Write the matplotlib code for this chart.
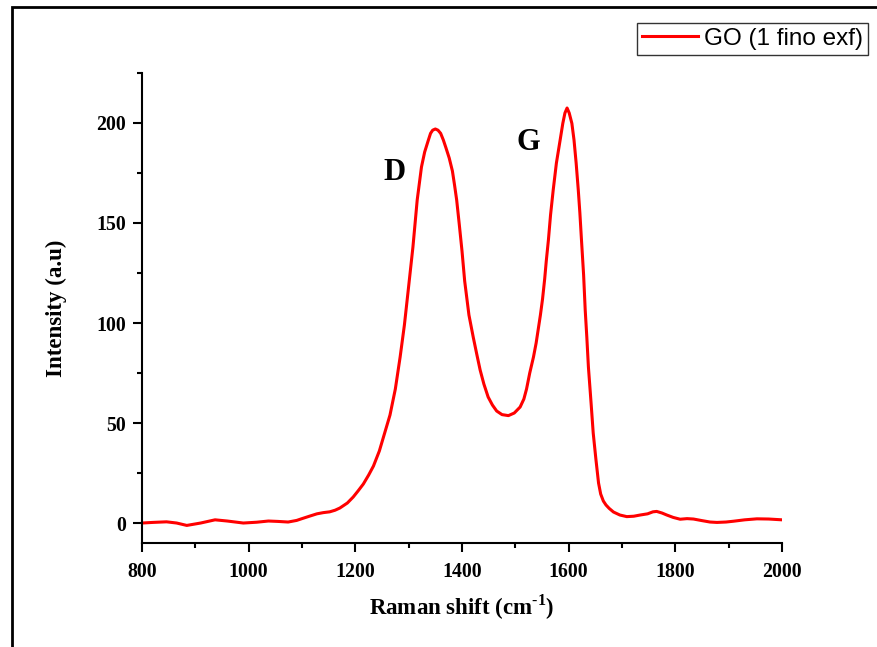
import matplotlib.pyplot as plt
from matplotlib.patches import Rectangle
from matplotlib.ticker import MultipleLocator

plt.rcParams['mathtext.fontset'] = 'custom'
plt.rcParams['mathtext.bf'] = 'Liberation Serif:bold'
plt.rcParams['mathtext.rm'] = 'Liberation Serif:bold'

# Raman spectrum
shift = [800, 820, 846, 865, 884, 910, 937, 960, 990, 1015, 1037, 1055, 1074, 1090,
         1100, 1115, 1128, 1140, 1152, 1162, 1171, 1185, 1196, 1205, 1215, 1225, 1234,
         1245, 1255, 1265, 1275, 1284, 1292, 1299, 1308, 1316, 1324, 1330, 1337, 1341,
         1345, 1350, 1355, 1360, 1365, 1370, 1376, 1382, 1386, 1390, 1395, 1400, 1405,
         1413, 1421, 1428, 1434, 1441, 1449, 1457, 1465, 1475, 1487, 1498, 1509, 1516,
         1521, 1527, 1534, 1539, 1543, 1547, 1551, 1555, 1558, 1562, 1566, 1571, 1577,
         1584, 1589, 1593, 1597, 1601, 1606, 1610, 1614, 1618, 1621, 1624, 1628, 1631,
         1634, 1637, 1642, 1646, 1651, 1656, 1660, 1665, 1670, 1676, 1684, 1696, 1709,
         1722, 1734, 1748, 1758, 1765, 1775, 1784, 1796, 1809, 1822, 1834, 1850, 1865,
         1878, 1895, 1909, 1930, 1953, 1975, 2000]
intensity = [0, 0.3, 0.6, 0, -1.2, 0, 1.6, 1.0, 0, 0.4, 1.0, 0.8, 0.5, 1.3,
             2.2, 3.5, 4.6, 5.2, 5.6, 6.4, 7.5, 10, 13, 16, 19.5, 24, 28.5,
             36, 45, 54, 67, 83, 99, 116, 138, 161.5, 178, 185.5, 191.5, 194.8,
             196.4, 197, 196.4, 194.8, 191.5, 187.5, 182.5, 176, 169, 161.5, 149, 136, 121,
             104, 93, 84, 76.5, 69.5, 63, 59, 56, 54.2, 53.7, 55, 58, 62,
             67, 75, 83, 90, 97, 104, 112, 122, 131, 141.5, 154, 166.5, 180,
             191.5, 199.8, 205, 207.5, 205, 199.8, 191.5, 180, 166.5, 155, 141.5, 124, 106.5,
             93, 78, 60, 45, 32, 20, 14.5, 11, 9, 7.3, 5.5, 4, 3.2,
             3.4, 4, 4.6, 5.6, 5.8, 5.0, 4, 2.8, 1.9, 2.2, 2, 1.2, 0.5,
             0.3, 0.5, 0.9, 1.6, 2.1, 2.0, 1.6]

peak_labels = ['D', 'G']
peak_pos = [(1274, 175), (1524, 190)]

serif = 'Liberation Serif'

fig = plt.figure(figsize=(8.77, 6.47), dpi=100)
ax = fig.add_axes([0.1619, 0.1607, 0.7298, 0.7265])

line, = ax.plot(shift, intensity, color='#ff0000', lw=2.2, label='GO (1 fino exf)')

for lab, (x, y) in zip(peak_labels, peak_pos):
    ax.text(x, y, lab, fontsize=22, fontweight='bold', family=serif,
            ha='center', va='center')

ax.set_xlim(800, 2000)
ax.set_ylim(-10, 225)
ax.xaxis.set_major_locator(MultipleLocator(200))
ax.xaxis.set_minor_locator(MultipleLocator(100))
ax.yaxis.set_major_locator(MultipleLocator(50))
ax.yaxis.set_minor_locator(MultipleLocator(25))

ax.spines['top'].set_visible(False)
ax.spines['right'].set_visible(False)
for s in ['left', 'bottom']:
    ax.spines[s].set_linewidth(1.5)

ax.tick_params(which='major', direction='out', length=6.5, width=1.5, pad=5)
ax.tick_params(which='minor', direction='out', length=3.5, width=1.5)
ax.tick_params(axis='x', which='major', pad=7)
for t in ax.get_xticklabels() + ax.get_yticklabels():
    t.set_family(serif)
    t.set_fontweight('bold')
    t.set_fontsize(14.3)

ax.set_xlabel('Raman shift (cm$^{\\text{-}\\mathbf{1}}$)', family=serif, fontweight='bold',
              fontsize=16.5, labelpad=8)
ax.set_ylabel('Intensity (a.u)', family=serif, fontweight='bold', fontsize=16.5,
              labelpad=21)

leg = fig.legend(handles=[line], loc='upper right', bbox_to_anchor=(0.9897, 0.9645),
                 prop={'family': 'Liberation Sans', 'size': 17.5},
                 frameon=True, fancybox=False, borderpad=0.2, handlelength=2.3,
                 handletextpad=0.25, borderaxespad=0)
leg.get_frame().set_edgecolor('black')
leg.get_frame().set_linewidth(1.0)

# outer frame around the figure
fig.patches.append(Rectangle((12 / 877, -0.1), 1.2, 1.1 - 6.5 / 647, transform=fig.transFigure,
                             fill=False, edgecolor='black', lw=2.0))

fig.savefig('out.png', dpi=100)
